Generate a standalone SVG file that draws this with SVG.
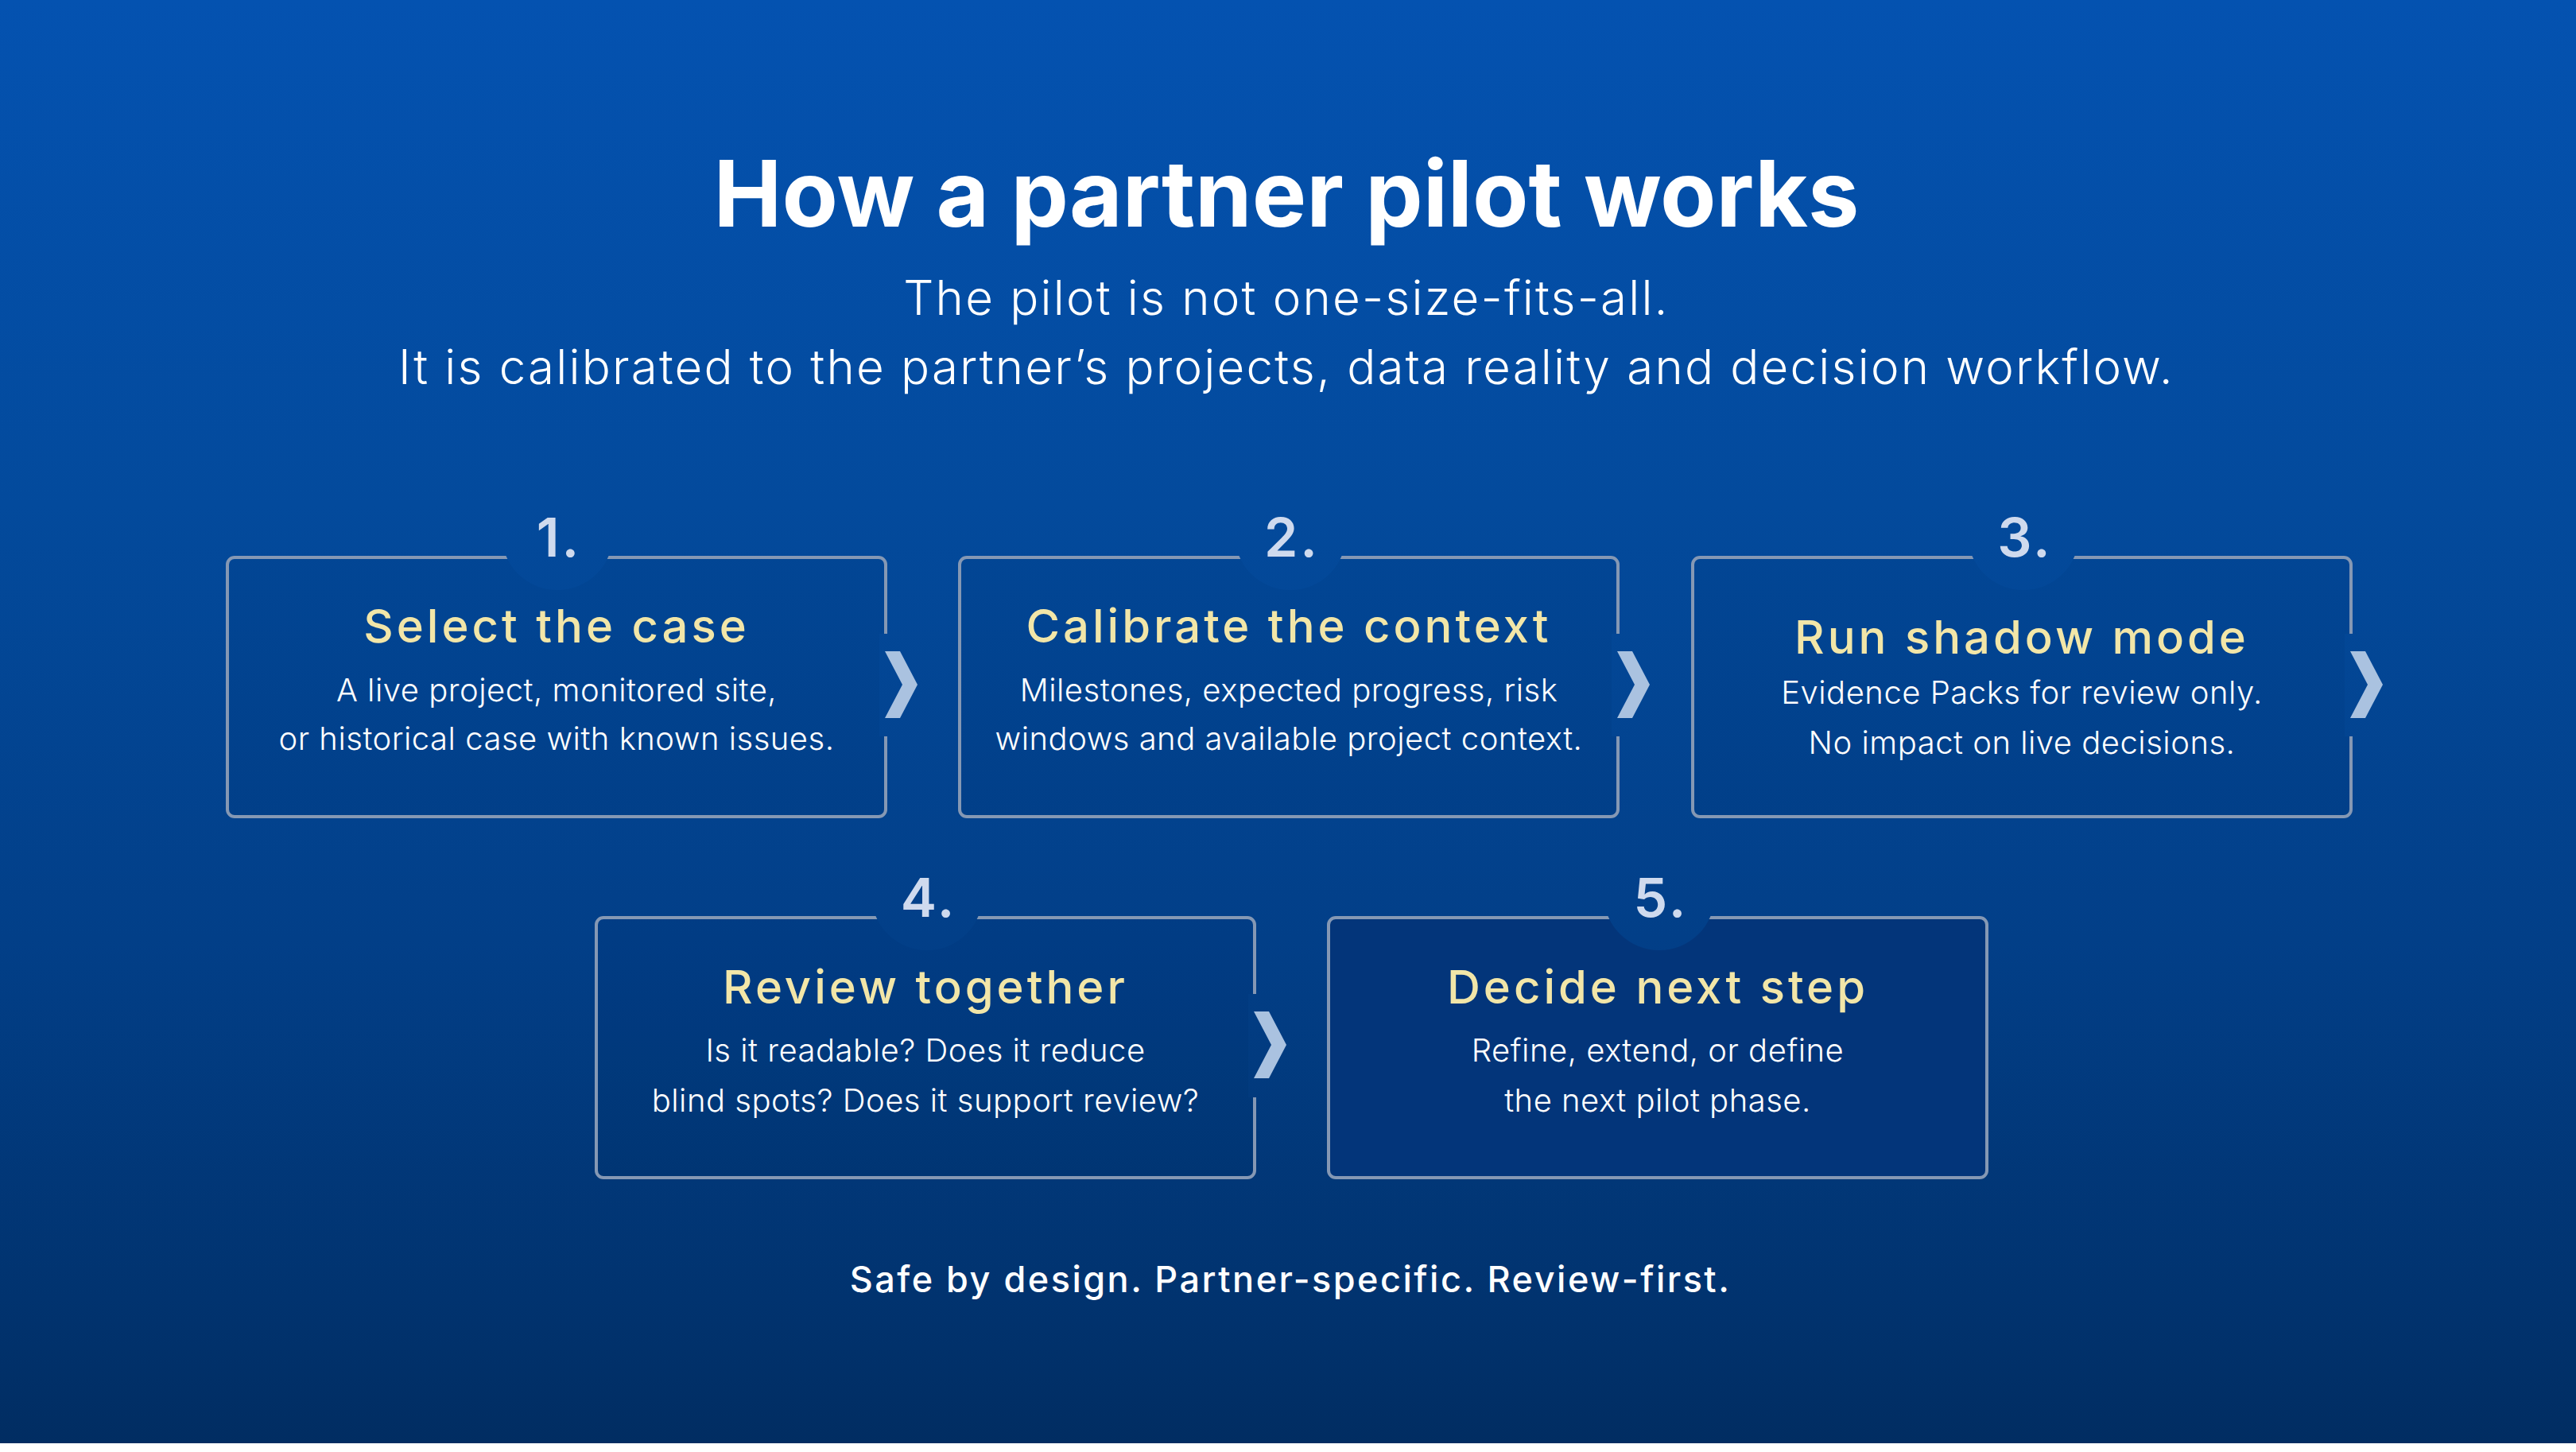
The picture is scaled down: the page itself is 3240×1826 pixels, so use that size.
<svg xmlns="http://www.w3.org/2000/svg" width="3240" height="1826" viewBox="0 0 3240 1826">
<defs>
<linearGradient id="bg" gradientUnits="userSpaceOnUse" x1="0" y1="0" x2="0" y2="1815">
<stop offset="0" stop-color="#0452b0"/>
<stop offset="0.35" stop-color="#034a9c"/>
<stop offset="0.65" stop-color="#023f88"/>
<stop offset="0.9" stop-color="#01336f"/>
<stop offset="1" stop-color="#012d62"/>
</linearGradient>
<style>
.box{fill:#00143c;fill-opacity:0.05;stroke:#8598b4;stroke-width:4}
.box5{fill:#03357a;stroke:#8598b4;stroke-width:4}
.disc{fill:url(#bg)}
.num{font-family:Inter,'Noto Sans',sans-serif;font-weight:600;font-size:68px;fill:#cfdaee;text-anchor:middle;letter-spacing:3px}
.ttl{font-family:Inter,'Noto Sans',sans-serif;font-weight:500;font-size:58px;fill:#f2e6a8;text-anchor:middle;letter-spacing:4px}
.body{font-family:Inter,'Noto Sans',sans-serif;font-weight:300;font-size:40px;fill:#ffffff;text-anchor:middle;letter-spacing:0.5px}
.gap{fill:url(#bg)}
.chev{fill:#aac2e0}
</style>
</defs>
<rect x="0" y="0" width="3240" height="1826" fill="#ffffff"/>
<rect x="0" y="0" width="3240" height="1815" fill="url(#bg)"/>
<g id="header">
<text x="1618" y="285" font-family="Inter,'Noto Sans',sans-serif" font-weight="700" font-size="115" fill="#ffffff" text-anchor="middle">How a partner pilot works</text>
<text x="1618" y="396" font-family="Inter,'Noto Sans',sans-serif" font-weight="300" font-size="60" fill="#ffffff" text-anchor="middle" letter-spacing="2.2">The pilot is not one-size-fits-all.</text>
<text x="1618" y="483" font-family="Inter,'Noto Sans',sans-serif" font-weight="300" font-size="60" fill="#ffffff" text-anchor="middle" letter-spacing="2.2">It is calibrated to the partner’s projects, data reality and decision workflow.</text>
</g>
<g id="step1">
<rect class="box" x="286" y="701" width="828" height="326" rx="9"/>
<circle class="disc" cx="701" cy="672" r="70"/>
<text class="num" x="703" y="700">1.</text>
<text class="ttl" x="700" y="808">Select the case</text>
<text class="body" x="700" y="882">A live project, monitored site,</text>
<text class="body" x="700" y="943">or historical case with known issues.</text>
</g>
<g id="step2">
<rect class="box" x="1207" y="701" width="828" height="326" rx="9"/>
<circle class="disc" cx="1623" cy="672" r="70"/>
<text class="num" x="1625" y="700">2.</text>
<text class="ttl" x="1621" y="808">Calibrate the context</text>
<text class="body" x="1621" y="882">Milestones, expected progress, risk</text>
<text class="body" x="1621" y="943">windows and available project context.</text>
</g>
<g id="step3">
<rect class="box" x="2129" y="701" width="828" height="326" rx="9"/>
<circle class="disc" cx="2545" cy="672" r="70"/>
<text class="num" x="2547" y="700">3.</text>
<text class="ttl" x="2543" y="822">Run shadow mode</text>
<text class="body" x="2543" y="885">Evidence Packs for review only.</text>
<text class="body" x="2543" y="948">No impact on live decisions.</text>
</g>
<g id="step4">
<rect class="box" x="750" y="1154" width="828" height="327" rx="9"/>
<circle class="disc" cx="1166" cy="1125" r="70"/>
<text class="num" x="1168" y="1153">4.</text>
<text class="ttl" x="1164" y="1262">Review together</text>
<text class="body" x="1164" y="1335">Is it readable? Does it reduce</text>
<text class="body" x="1164" y="1398">blind spots? Does it support review?</text>
</g>
<g id="step5">
<rect class="box5" x="1671" y="1154" width="828" height="327" rx="9"/>
<circle class="disc" cx="2087" cy="1125" r="70"/>
<text class="num" x="2089" y="1153">5.</text>
<text class="ttl" x="2085" y="1262">Decide next step</text>
<text class="body" x="2085" y="1335">Refine, extend, or define</text>
<text class="body" x="2085" y="1398">the next pilot phase.</text>
</g>
<g id="connectors">
<rect class="gap" x="1106" y="797" width="16" height="129"/>
<polygon class="chev" points="1113,819 1132,819 1154,861 1132,903 1113,903 1135,861"/>
<rect class="gap" x="2027" y="797" width="16" height="129"/>
<polygon class="chev" points="2034,819 2053,819 2075,861 2053,903 2034,903 2056,861"/>
<rect class="gap" x="2949" y="797" width="16" height="129"/>
<polygon class="chev" points="2956,819 2975,819 2997,861 2975,903 2956,903 2978,861"/>
<rect class="gap" x="1570" y="1250" width="16" height="130"/>
<polygon class="chev" points="1577,1272 1596,1272 1618,1314 1596,1356 1577,1356 1599,1314"/>
</g>
<g id="footer">
<text x="1623" y="1625" font-family="Inter,'Noto Sans',sans-serif" font-weight="500" font-size="45" fill="#ffffff" text-anchor="middle" letter-spacing="2.5">Safe by design. Partner-specific. Review-first.</text>
</g>
</svg>
